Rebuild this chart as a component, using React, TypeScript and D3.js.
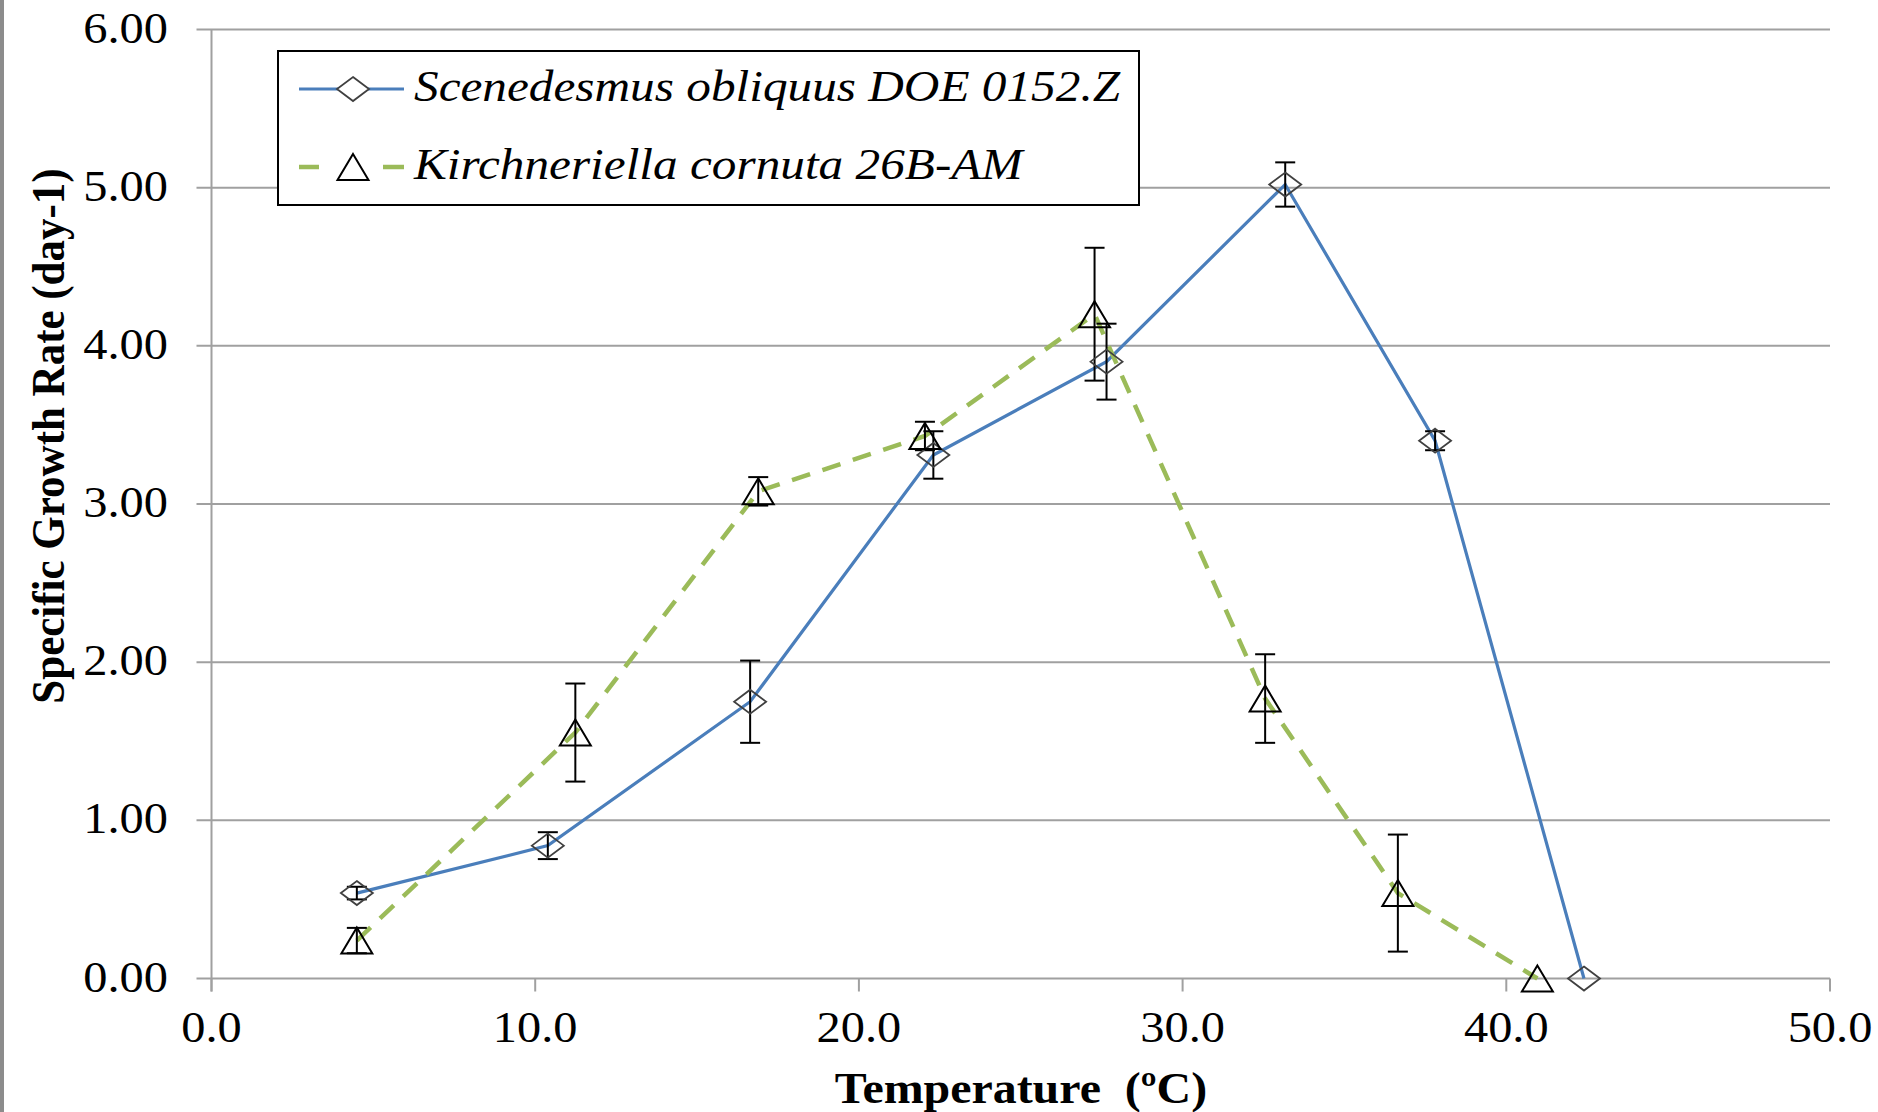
import React from "react";
import * as d3 from "d3";

// Scenedesmus obliquus DOE 0152.Z
const sTemp = [4.49, 10.39, 16.64, 22.3, 27.65, 33.17, 37.8, 42.4];
const sRate = [0.54, 0.84, 1.75, 3.31, 3.9, 5.02, 3.4, 0.0];
const sErr = [0.04, 0.085, 0.26, 0.15, 0.24, 0.14, 0.06, 0];

// Kirchneriella cornuta 26B-AM
const kTemp = [4.49, 11.24, 16.89, 22.04, 27.28, 32.55, 36.65, 40.96];
const kRate = [0.24, 1.555, 3.08, 3.43, 4.2, 1.77, 0.54, 0.0];
const kErr = [0.08, 0.31, 0.09, 0.09, 0.42, 0.28, 0.37, 0];

const xTicks = [0, 10, 20, 30, 40, 50];
const yTicks = [0, 1, 2, 3, 4, 5, 6];
const sName = "Scenedesmus obliquus DOE 0152.Z";
const kName = "Kirchneriella cornuta 26B-AM";

export default function App() {
    const width = 1878;
    const height = 1112;
    const marginLeft = 211.5;
    const marginRight = 48;
    const marginTop = 29.5;
    const marginBottom = 133.5;
    const font = '"Liberation Serif", "Times New Roman", serif';
    const sx = 1.1; // source figure is slightly stretched horizontally
    const blue = "#4a7ebb";
    const green = "#9bbb59";
    const grid = "#a0a0a0";

    const x = d3.scaleLinear().domain([0, 50]).range([marginLeft, width - marginRight]);
    const y = d3.scaleLinear().domain([0, 6]).range([height - marginBottom, marginTop]);

    const sData = sTemp.map((t, i) => ({ t, r: sRate[i], e: sErr[i] }));
    const kData = kTemp.map((t, i) => ({ t, r: kRate[i], e: kErr[i] }));

    const line = d3
        .line<{ t: number; r: number }>()
        .x((d) => x(d.t))
        .y((d) => y(d.r));

    const diamond = (cx: number, cy: number) =>
        `M${cx},${cy - 12}L${cx + 16},${cy}L${cx},${cy + 12}L${cx - 16},${cy}Z`;
    const triangle = (cx: number, cy: number) =>
        `M${cx},${cy - 13}L${cx + 15.5},${cy + 13}L${cx - 15.5},${cy + 13}Z`;

    const errBars = (data: { t: number; r: number; e: number }[], key: string) =>
        data
            .filter((d) => d.e > 0)
            .map((d, i) => {
                const cx = x(d.t);
                const y1 = y(d.r + d.e);
                const y2 = y(d.r - d.e);
                return (
                    <g key={key + i} stroke="#000" strokeWidth={2}>
                        <line x1={cx} x2={cx} y1={y1} y2={y2} />
                        <line x1={cx - 10} x2={cx + 10} y1={y1} y2={y1} />
                        <line x1={cx - 10} x2={cx + 10} y1={y2} y2={y2} />
                    </g>
                );
            });

    const y0 = y(0);

    return (
        <svg
            width={width}
            height={height}
            style={{ position: "absolute", left: 0, top: 0, background: "#fff" }}
            fontFamily={font}
        >
            <rect x={0} y={0} width={width} height={height} fill="#fff" />
            <rect x={0} y={0} width={4} height={height} fill="#8c8c8c" />

            {/* gridlines and y ticks */}
            {yTicks.map((t) => (
                <line
                    key={"g" + t}
                    x1={marginLeft - 15}
                    x2={width - marginRight}
                    y1={y(t)}
                    y2={y(t)}
                    stroke={grid}
                    strokeWidth={2}
                />
            ))}
            <line x1={marginLeft} x2={marginLeft} y1={y(6)} y2={y0 + 13} stroke={grid} strokeWidth={2} />
            {xTicks.map((t) => (
                <line key={"xt" + t} x1={x(t)} x2={x(t)} y1={y0} y2={y0 + 13} stroke={grid} strokeWidth={2} />
            ))}

            {/* tick labels */}
            {yTicks.map((t) => (
                <text
                    key={"yl" + t}
                    transform={`translate(168,${y(t) + 13}) scale(${sx},1)`}
                    textAnchor="end"
                    fontSize={44}
                    fill="#000"
                >
                    {t.toFixed(2)}
                </text>
            ))}
            {xTicks.map((t) => (
                <text
                    key={"xl" + t}
                    transform={`translate(${x(t)},1042) scale(${sx},1)`}
                    textAnchor="middle"
                    fontSize={44}
                    fill="#000"
                >
                    {t.toFixed(1)}
                </text>
            ))}

            {/* axis titles */}
            <text
                transform={`translate(1021,1103) scale(${sx * 0.99},1)`}
                textAnchor="middle"
                fontSize={44}
                fontWeight="bold"
                fill="#000"
                style={{ whiteSpace: "pre" }}
            >
                {"Temperature  (ºC)"}
            </text>
            <text
                transform={`translate(64,436) rotate(-90) scale(1,${sx})`}
                textAnchor="middle"
                fontSize={43}
                fontWeight="bold"
                fill="#000"
            >
                Specific Growth Rate (day-1)
            </text>

            {/* series lines */}
            <path d={line(sData) ?? ""} fill="none" stroke={blue} strokeWidth={3.2} />
            <path d={line(kData) ?? ""} fill="none" stroke={green} strokeWidth={4.5} strokeDasharray="19,13" />

            {/* error bars */}
            {errBars(sData, "se")}
            {errBars(kData, "ke")}

            {/* markers */}
            {sData.map((d, i) => (
                <path key={"sm" + i} d={diamond(x(d.t), y(d.r))} fill="none" stroke="#404040" strokeWidth={1.8} />
            ))}
            {kData.map((d, i) => (
                <path key={"km" + i} d={triangle(x(d.t), y(d.r))} fill="none" stroke="#000" strokeWidth={2} />
            ))}

            {/* legend */}
            <rect x={278} y={51} width={861} height={154} fill="#fff" stroke="#000" strokeWidth={2} />
            <line x1={299} x2={404} y1={89} y2={89} stroke={blue} strokeWidth={3.2} />
            <path d={diamond(353, 89)} fill="#fff" stroke="#404040" strokeWidth={1.8} />
            <text
                transform={`translate(414,101) scale(1.12,1)`}
                fontSize={44}
                fontStyle="italic"
                fill="#000"
            >
                {sName}
            </text>
            <line x1={299} x2={319} y1={167} y2={167} stroke={green} strokeWidth={4.5} />
            <line x1={383} x2={404} y1={167} y2={167} stroke={green} strokeWidth={4.5} />
            <path d={triangle(353, 167)} fill="none" stroke="#000" strokeWidth={2} />
            <text
                transform={`translate(414,179) scale(1.12,1)`}
                fontSize={44}
                fontStyle="italic"
                fill="#000"
            >
                {kName}
            </text>
        </svg>
    );
}
